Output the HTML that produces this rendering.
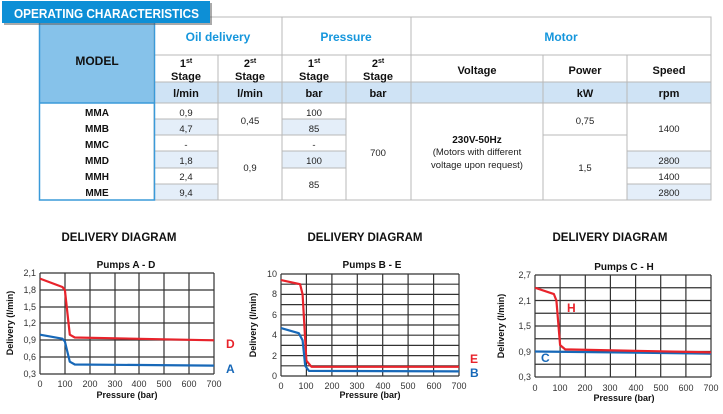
<!DOCTYPE html>
<html><head><meta charset="utf-8"><style>
body{margin:0;background:#fff;width:723px;height:414px;overflow:hidden}
svg{display:block;font-family:"Liberation Sans",Arial,sans-serif}
</style></head><body>
<svg width="723" height="414" viewBox="0 0 723 414">
<!-- table fills -->
<rect x="39" y="17" width="115" height="86" fill="#86c2ea"/>
<rect x="154" y="82" width="557" height="21" fill="#cfe3f5"/>
<g fill="#e4eef9">
<rect x="154" y="119" width="64" height="16"/><rect x="282" y="119" width="64" height="16"/>
<rect x="154" y="151" width="64" height="17"/><rect x="282" y="151" width="64" height="17"/>
<rect x="154" y="184" width="64" height="16"/>
<rect x="627" y="151" width="84" height="17"/><rect x="627" y="184" width="84" height="16"/>
</g>
<g stroke="#b8b8b8" stroke-width="1" fill="none">
<rect x="154" y="17" width="557" height="183"/>
<line x1="154" y1="55" x2="711" y2="55"/><line x1="154" y1="82" x2="711" y2="82"/><line x1="154" y1="103" x2="711" y2="103"/>
<line x1="218" y1="55" x2="218" y2="200"/><line x1="282" y1="17" x2="282" y2="200"/><line x1="346" y1="55" x2="346" y2="200"/>
<line x1="411" y1="17" x2="411" y2="200"/><line x1="543" y1="55" x2="543" y2="200"/><line x1="627" y1="55" x2="627" y2="200"/>
<line x1="154" y1="119" x2="218" y2="119"/><line x1="282" y1="119" x2="346" y2="119"/>
<line x1="154" y1="135" x2="346" y2="135"/><line x1="543" y1="135" x2="627" y2="135"/>
<line x1="154" y1="151" x2="218" y2="151"/><line x1="282" y1="151" x2="346" y2="151"/><line x1="627" y1="151" x2="711" y2="151"/>
<line x1="154" y1="168" x2="218" y2="168"/><line x1="282" y1="168" x2="346" y2="168"/><line x1="627" y1="168" x2="711" y2="168"/>
<line x1="154" y1="184" x2="218" y2="184"/><line x1="627" y1="184" x2="711" y2="184"/>
</g>
<rect x="39.5" y="17.5" width="115" height="182.5" fill="none" stroke="#3a9ad9" stroke-width="1.5"/>
<line x1="39" y1="103" x2="154" y2="103" stroke="#3a9ad9" stroke-width="1.5"/>
<!-- banner -->
<rect x="4" y="3" width="208" height="22" fill="#555" opacity="0.5"/>
<rect x="2" y="1" width="208" height="22" fill="#0d8fd6"/>
<text x="14" y="18" font-size="12.5" font-weight="bold" fill="#fff" textLength="185" lengthAdjust="spacingAndGlyphs">OPERATING CHARACTERISTICS</text>
<g font-size="11" font-weight="bold" text-anchor="middle" fill="#111">
<text x="97" y="65" font-size="12">MODEL</text>
<text x="218" y="41" font-size="12" fill="#1596dc">Oil delivery</text>
<text x="346" y="41" font-size="12" fill="#1596dc">Pressure</text>
<text x="561" y="41" font-size="12" fill="#1596dc">Motor</text>
<text x="186" y="67">1<tspan font-size="7" dy="-4">st</tspan></text><text x="186" y="80">Stage</text>
<text x="250" y="67">2<tspan font-size="7" dy="-4">st</tspan></text><text x="250" y="80">Stage</text>
<text x="314" y="67">1<tspan font-size="7" dy="-4">st</tspan></text><text x="314" y="80">Stage</text>
<text x="378" y="67">2<tspan font-size="7" dy="-4">st</tspan></text><text x="378" y="80">Stage</text>
<text x="477" y="74">Voltage</text><text x="585" y="74">Power</text><text x="669" y="74">Speed</text>
<text x="186" y="97">l/min</text><text x="250" y="97">l/min</text><text x="314" y="97">bar</text><text x="378" y="97">bar</text>
<text x="585" y="97">kW</text><text x="669" y="97">rpm</text>
<g font-size="10"><text x="97" y="116">MMA</text><text x="97" y="132">MMB</text><text x="97" y="148">MMC</text><text x="97" y="164">MMD</text><text x="97" y="180">MMH</text><text x="97" y="196">MME</text>
<text x="477" y="143">230V-50Hz</text></g>
</g>
<g font-size="9.5" text-anchor="middle" fill="#222">
<text x="186" y="116">0,9</text><text x="186" y="132">4,7</text><text x="186" y="148">-</text><text x="186" y="164">1,8</text><text x="186" y="180">2,4</text><text x="186" y="196">9,4</text>
<text x="250" y="124">0,45</text><text x="250" y="171">0,9</text>
<text x="314" y="116">100</text><text x="314" y="132">85</text><text x="314" y="148">-</text><text x="314" y="164">100</text><text x="314" y="188">85</text>
<text x="378" y="156">700</text>
<text x="477" y="155">(Motors with different</text><text x="477" y="168">voltage upon request)</text>
<text x="585" y="124">0,75</text><text x="585" y="171">1,5</text>
<text x="669" y="132">1400</text><text x="669" y="164">2800</text><text x="669" y="180">1400</text><text x="669" y="196">2800</text>
</g>

<!-- titles -->
<g font-size="11.5" font-weight="bold" text-anchor="middle" fill="#111">
<text x="119" y="241">DELIVERY DIAGRAM</text><text x="365" y="241">DELIVERY DIAGRAM</text><text x="610" y="241">DELIVERY DIAGRAM</text>
</g>
<g font-size="10" font-weight="bold" text-anchor="middle" fill="#111">
<text x="126" y="268">Pumps  A - D</text><text x="372" y="268">Pumps  B - E</text><text x="624" y="270">Pumps  C - H</text>
<text x="127" y="398" font-size="9">Pressure  (bar)</text><text x="370" y="398" font-size="9">Pressure (bar)</text><text x="624" y="401" font-size="9">Pressure  (bar)</text>
<text transform="translate(13,323) rotate(-90)" font-size="9">Delivery (l/min)</text>
<text transform="translate(256,325) rotate(-90)" font-size="9">Delivery (l/min)</text>
<text transform="translate(504,326) rotate(-90)" font-size="9">Delivery (l/min)</text>
</g>

<!-- chart1 -->
<g stroke="#333" stroke-width="1.2">
<path d="M40 273H214M40 290H214M40 307H214M40 323H214M40 340H214M40 357H214M40 374H214"/>
<path d="M40 273V374M65 273V374M90 273V374M115 273V374M139 273V374M164 273V374M189 273V374M214 273V374"/>
</g>
<g font-size="9" fill="#333" text-anchor="end">
<text x="36" y="276">2,1</text><text x="36" y="293">1,8</text><text x="36" y="310">1,5</text><text x="36" y="326">1,2</text><text x="36" y="343">0,9</text><text x="36" y="360">0,6</text><text x="36" y="377">0,3</text>
</g>
<g font-size="9" fill="#333" text-anchor="middle">
<text x="40" y="387">0</text><text x="65" y="387">100</text><text x="90" y="387">200</text><text x="115" y="387">300</text><text x="139" y="387">400</text><text x="164" y="387">500</text><text x="189" y="387">600</text><text x="214" y="387">700</text>
</g>
<path d="M40 278.6L62.4 287L64.9 290L69.8 334.7L74.8 337.5L214 340.3" stroke="#e8232b" stroke-width="2.2" fill="none" stroke-linejoin="round"/>
<path d="M40 334.7L62.4 338.7L64.9 341.5L69.8 361.7L74.8 364.5L214 365.6" stroke="#1768b8" stroke-width="2.2" fill="none" stroke-linejoin="round"/>
<text x="226" y="348" font-size="12" font-weight="bold" fill="#e8232b">D</text>
<text x="226" y="373" font-size="12" font-weight="bold" fill="#1768b8">A</text>

<!-- chart2 -->
<g stroke="#333" stroke-width="1.2">
<path d="M281 274H459M281 284.2H459M281 294.4H459M281 304.6H459M281 314.8H459M281 325H459M281 335.2H459M281 345.4H459M281 355.6H459M281 365.8H459M281 376H459"/>
<path d="M281 274V376M306.4 274V376M331.9 274V376M357.3 274V376M382.7 274V376M408.1 274V376M433.6 274V376M459 274V376"/>
</g>
<g font-size="9" fill="#333" text-anchor="end">
<text x="277" y="277">10</text><text x="277" y="297">8</text><text x="277" y="318">6</text><text x="277" y="338">4</text><text x="277" y="359">2</text><text x="277" y="379">0</text>
</g>
<g font-size="9" fill="#333" text-anchor="middle">
<text x="281" y="389">0</text><text x="306" y="389">100</text><text x="332" y="389">200</text><text x="357" y="389">300</text><text x="383" y="389">400</text><text x="408" y="389">500</text><text x="434" y="389">600</text><text x="459" y="389">700</text>
</g>
<path d="M281 280.1L300.1 284.2L302.6 294.4L306.4 360.7L311.5 366.8L459 366.8" stroke="#e8232b" stroke-width="2.2" fill="none" stroke-linejoin="round"/>
<path d="M281 328.1L298.8 333.2L302.6 340.3L305.2 365.8L309 370.9L459 371.4" stroke="#1768b8" stroke-width="2.2" fill="none" stroke-linejoin="round"/>
<text x="470" y="363" font-size="12" font-weight="bold" fill="#e8232b">E</text>
<text x="470" y="377" font-size="12" font-weight="bold" fill="#1768b8">B</text>

<!-- chart3 -->
<g stroke="#333" stroke-width="1.2">
<path d="M535 275H711M535 287.75H711M535 300.5H711M535 313.25H711M535 326H711M535 338.75H711M535 351.5H711M535 364.25H711M535 377H711"/>
<path d="M535 275V377M560.1 275V377M585.3 275V377M610.4 275V377M635.6 275V377M660.7 275V377M685.9 275V377M711 275V377"/>
</g>
<g font-size="9" fill="#333" text-anchor="end">
<text x="531" y="278">2,7</text><text x="531" y="304">2,1</text><text x="531" y="329">1,5</text><text x="531" y="355">0,9</text><text x="531" y="380">0,3</text>
</g>
<g font-size="9" fill="#333" text-anchor="middle">
<text x="535" y="391">0</text><text x="560" y="391">100</text><text x="585" y="391">200</text><text x="610" y="391">300</text><text x="636" y="391">400</text><text x="661" y="391">500</text><text x="686" y="391">600</text><text x="711" y="391">700</text>
</g>
<path d="M535 351.5L711 353.6" stroke="#1768b8" stroke-width="2.2" fill="none"/>
<path d="M535 287.75L553.9 294.1L556.4 300.5L560.1 345.1L565.2 349.4L711 352.4" stroke="#e8232b" stroke-width="2.2" fill="none" stroke-linejoin="round"/>
<text x="567" y="312" font-size="12" font-weight="bold" fill="#e8232b">H</text>
<text x="541" y="362" font-size="12" font-weight="bold" fill="#1768b8">C</text>
</svg>
</body></html>
